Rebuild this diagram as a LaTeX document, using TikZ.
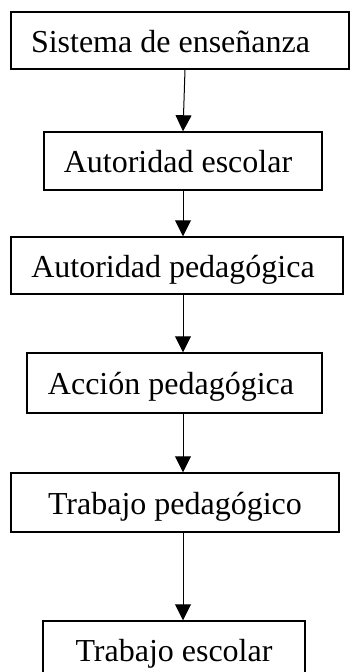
\documentclass[tikz,border=0pt]{standalone}
\usepackage{fontspec}
\setmainfont{Liberation Serif}
\usetikzlibrary{arrows.meta}
\begin{document}
\begin{tikzpicture}[x=1pt,y=-1pt,
  box/.style={draw=black,line width=1.5pt,rectangle,inner sep=0pt,
    text height=30pt,text depth=7pt,font=\fontsize{32pt}{36pt}\selectfont},
  arr/.style={draw=black,line width=1pt,-{Triangle[length=16pt,width=16pt]}}]
\useasboundingbox (0,0) rectangle (350,672);
\node[box,minimum width=338pt,minimum height=57pt] (b1) at (180,40.5) {Sistema de enseñanza\kern19pt};
\node[box,minimum width=278pt,minimum height=58pt] (b2) at (183,161) {Autoridad escolar\kern10pt};
\node[box,minimum width=332pt,minimum height=57pt] (b3) at (177,265.5) {Autoridad pedagógica\kern8pt};
\node[box,minimum width=295pt,minimum height=60pt] (b4) at (174.5,383) {Acción pedagógica\kern7pt};
\node[box,minimum width=328pt,minimum height=59pt] (b5) at (175,502.5) {Trabajo pedagógico};
\node[box,minimum width=262pt,minimum height=58pt] (b6) at (174,650) {Trabajo escolar};
\coordinate (ax) at (183,0);
\coordinate (ax1) at (185,0);
\draw[arr] (b1.south -| ax1) -- (b2.north -| ax);
\draw[arr] (b2.south -| ax) -- (b3.north -| ax);
\draw[arr] (b3.south -| ax) -- (b4.north -| ax);
\draw[arr] (b4.south -| ax) -- (b5.north -| ax);
\draw[arr] (b5.south -| ax) -- (b6.north -| ax);
\end{tikzpicture}
\end{document}
